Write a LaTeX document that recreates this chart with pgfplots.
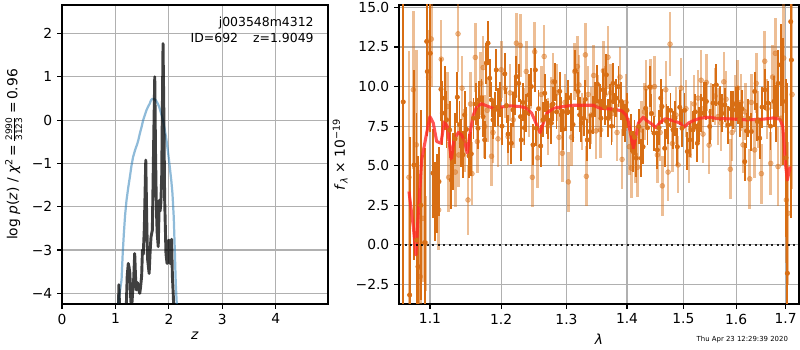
\documentclass[border=0pt]{standalone}
\usepackage{pgfplots}
\pgfplotsset{compat=1.18}
\usepackage{pgfplotstable}
\usepackage{fontspec}
\setmainfont{DejaVu Sans}
\definecolor{darkor}{RGB}{216,110,20}
\definecolor{gridc}{RGB}{176,176,176}
\definecolor{tabblue}{RGB}{31,119,180}
\definecolor{modred}{RGB}{255,40,40}

\pgfplotstableread{
z y
1.045 -4.6
1.05 -4.25
1.114 -3.69
1.135 -3.1
1.157 -2.62
1.18 -2.2
1.207 -1.85
1.24 -1.55
1.27 -1.31
1.30 -1.05
1.33 -0.85
1.37 -0.68
1.41 -0.54
1.43 -0.45
1.456 -0.31
1.49 -0.15
1.518 0.0
1.55 0.12
1.58 0.23
1.61 0.31
1.64 0.38
1.665 0.46
1.686 0.49
1.72 0.49
1.755 0.46
1.785 0.4
1.817 0.31
1.855 0.15
1.89 0.0
1.92 -0.2
1.954 -0.46
1.985 -0.75
2.016 -1.08
2.045 -1.4
2.066 -1.69
2.09 -2.23
2.11 -3.0
2.128 -3.77
2.147 -4.25
2.16 -4.6
}\bluepz

\pgfplotstableread{
z y
1.05 -4.6
1.065 -3.8
1.08 -4.5
1.12 -5.0
1.19 -4.8
1.22 -3.6
1.24 -3.31
1.255 -3.4
1.27 -3.54
1.285 -4.1
1.30 -4.4
1.32 -4.0
1.34 -3.7
1.36 -3.08
1.375 -3.6
1.39 -3.92
1.41 -3.75
1.43 -3.9
1.455 -4.0
1.47 -3.85
1.49 -3.6
1.505 -3.0
1.52 -3.1
1.54 -2.5
1.567 -0.92
1.585 -2.3
1.60 -3.2
1.63 -3.54
1.65 -3.0
1.665 -2.7
1.69 -2.54
1.715 -0.5
1.735 1.0
1.75 -0.8
1.765 -2.0
1.78 -2.6
1.80 -2.92
1.82 -1.85
1.835 -2.1
1.85 -1.9
1.865 -1.3
1.89 1.77
1.905 0.2
1.92 -1.8
1.945 -3.08
1.965 -3.31
1.98 -2.85
2.00 -2.77
2.02 -3.3
2.035 -3.31
2.05 -2.75
2.065 -3.6
2.08 -4.0
2.10 -4.6
}\blackpz

\pgfplotstableread{
x y e
1.0646 9.03 14
1.0730 -3.16 10
1.0787 5.05 6
1.0820 0.3 8
1.0840 -1.37 7
1.0879 2.5 6
1.0929 0.15 6
1.0956 12.85 6
1.0964 10.95 4
1.1004 12.1 5
1.1041 4.53 2.8
1.1072 2.74 2.5
1.1099 3.26 2.5
1.1122 4.0 2.2
1.1149 9.83 2.0
1.1167 8.32 2.0
1.1200 9.27 2.0
1.1225 7.9 1.8
1.1268 7.26 1.8
1.1291 4.1 1.8
1.1314 5.26 1.8
1.1342 6.7 1.6
1.1374 9.33 1.6
1.1405 7.6 1.5
1.1430 6.42 1.5
1.1454 5.7 1.5
1.1477 8.21 1.5
1.1503 7.3 1.4
1.1538 5.62 1.4
1.1570 5.75 1.4
1.1602 8.0 1.3
1.1637 8.9 1.3
1.1666 7.37 1.3
1.1680 9.16 1.2
1.1716 9.3 1.2
1.1738 8.1 1.3
1.1762 6.63 1.2
1.1785 11.48 1.3
1.1810 12.74 1.4
1.1834 10.53 1.2
1.1860 9.16 1.1
1.1882 7.9 1.2
1.1907 8.53 1.1
1.1930 11.05 1.3
1.1955 8.7 1.2
1.1980 9.16 1.1
1.2014 7.5 1.2
1.2054 10.8 1.3
1.2080 8.8 1.1
1.2103 7.0 1.2
1.2151 6.42 1.3
1.2176 8.53 1.1
1.2203 9.4 1.2
1.2226 10.63 1.3
1.2262 10.2 1.2
1.2289 8.1 1.1
1.2301 6.63 1.3
1.2326 9.0 1.2
1.2349 7.4 1.1
1.2376 8.32 1.2
1.2413 9.47 1.3
1.2452 10.0 1.2
1.2478 6.32 1.3
1.2514 11.05 1.4
1.2529 7.37 1.1
1.2563 8.6 1.2
1.2596 6.25 1.3
1.2632 7.9 1.1
1.2658 9.58 1.2
1.2686 8.1 1.1
1.2709 7.89 1.2
1.2761 7.69 1.3
1.2788 8.9 1.1
1.2814 10.3 1.2
1.2843 8.4 1.1
1.2893 9.7 1.2
1.2918 8.21 1.1
1.2945 7.3 1.3
1.2998 8.4 1.2
1.3030 9.3 1.1
1.3068 8.4 1.2
1.3105 7.6 1.1
1.3142 11.0 1.3
1.3185 9.69 1.2
1.3212 8.21 1.1
1.3238 7.69 1.2
1.3282 8.0 1.1
1.3304 9.2 1.2
1.3336 6.63 1.3
1.3375 7.16 1.1
1.3429 8.21 1.2
1.3457 9.16 1.1
1.3500 10.16 1.2
1.3540 9.06 1.1
1.3561 8.0 1.2
1.3595 9.8 1.3
1.3623 8.7 1.1
1.3650 10.74 1.3
1.3678 8.0 1.2
1.3707 9.06 1.1
1.3737 7.5 1.2
1.3762 10.2 1.3
1.3788 8.5 1.1
1.3818 9.27 1.2
1.3855 10.0 1.3
1.3903 9.06 1.2
1.3932 8.0 1.1
1.3961 7.69 1.2
1.4000 8.5 1.1
1.4074 7.06 1.2
1.4103 5.9 1.3
1.4129 6.8 1.1
1.4160 5.48 1.2
1.4202 7.48 1.1
1.4247 5.48 1.2
1.4277 6.2 1.1
1.4324 8.63 1.2
1.4356 7.4 1.1
1.4394 9.98 1.3
1.4426 8.3 1.2
1.4470 7.06 1.1
1.4529 6.0 1.2
1.4559 7.4 1.1
1.4590 9.27 1.2
1.4613 8.74 1.1
1.4662 6.1 1.2
1.4694 7.8 1.1
1.4721 7.58 1.2
1.4766 8.5 1.1
1.4811 7.27 1.2
1.4847 8.0 1.1
1.4889 6.2 1.2
1.4933 8.69 1.1
1.4975 7.37 1.2
1.5021 8.5 1.1
1.5073 5.9 1.2
1.5117 6.63 1.1
1.5178 7.27 1.2
1.5221 8.4 1.1
1.5258 6.42 1.2
1.5290 7.6 1.1
1.5333 8.32 1.2
1.5384 9.2 1.1
1.5428 9.06 1.2
1.5492 7.48 1.1
1.5554 8.95 1.2
1.5617 10.1 1.3
1.5682 8.95 1.1
1.5727 8.3 1.2
1.5779 8.84 1.1
1.5842 7.58 1.2
1.5901 8.6 1.1
1.5940 8.53 1.2
1.5999 8.9 1.1
1.6038 8.84 1.2
1.6071 7.9 1.1
1.6116 8.6 1.2
1.6170 5.26 1.2
1.6205 7.2 1.1
1.6235 8.0 1.2
1.6301 7.16 1.2
1.6369 9.69 1.2
1.6421 7.79 1.2
1.6469 6.74 1.3
1.6516 8.7 1.3
1.6571 9.79 1.3
1.6638 8.95 1.4
1.6688 7.5 1.5
1.6760 9.06 1.6
1.6807 8.32 1.8
1.6842 10.2 2.1
1.6898 11.37 2.6
1.6946 9.06 4.0
1.7008 5.5 5.0
1.7036 -1.79 12
1.7106 14.1 12
1.7119 11.68 10
}\darkpts

\pgfplotstableread{
x y e
1.0721 4.27 8
1.0778 9.8 5
1.0818 6.32 6
1.0853 -1.4 5
1.0870 -2.0 4
1.0906 1.68 4
1.0942 0.11 3
1.0980 10.6 3
1.1018 13.0 3
1.1118 2.21 2.5
1.1153 11.73 2.5
1.1236 8.74 2.2
1.1255 4.27 2.2
1.1346 4.6 2.2
1.1384 13.33 2.4
1.1394 5.68 2.0
1.1440 9.9 2.0
1.1477 6.6 2.0
1.1524 2.84 2.2
1.1560 8.9 2.0
1.1580 4.5 2.0
1.1627 11.84 2.2
1.1656 6.53 2.0
1.1704 10.2 2.0
1.1740 11.2 2.0
1.1762 7.48 2.0
1.1799 8.5 2.0
1.1860 5.6 1.9
1.1882 7.1 1.9
1.1955 6.7 1.8
1.2003 11.06 1.8
1.2060 9.9 1.9
1.2103 6.84 1.8
1.2132 9.6 1.8
1.2180 7.9 1.8
1.2226 12.74 1.9
1.2286 12.6 2.0
1.2341 8.1 1.8
1.2376 10.95 1.9
1.2420 8.7 1.9
1.2468 4.27 1.9
1.2504 12.2 1.9
1.2550 5.5 1.9
1.2606 9.5 1.8
1.2650 11.9 2.0
1.2709 7.5 1.8
1.2760 8.8 1.8
1.2788 10.3 1.8
1.2850 9.6 1.8
1.2882 6.8 1.8
1.2934 5.79 1.8
1.2977 9.0 1.8
1.3030 3.98 1.9
1.3080 6.8 1.8
1.3132 10.95 1.8
1.3174 11.27 1.9
1.3200 10.1 1.9
1.3250 7.8 1.8
1.3304 12.0 2.0
1.3320 4.33 1.9
1.3350 9.5 1.8
1.3396 8.2 1.8
1.3440 10.7 1.9
1.3479 7.2 1.8
1.3510 8.9 1.8
1.3556 7.27 1.8
1.3600 11.0 1.9
1.3628 9.5 1.8
1.3678 11.85 2.0
1.3720 9.6 1.8
1.3745 8.3 1.8
1.3830 7.1 1.8
1.3880 10.6 1.9
1.3915 5.4 1.9
1.3983 9.0 1.8
1.4040 6.2 1.8
1.4074 4.85 1.9
1.4143 5.7 1.8
1.4180 4.9 1.9
1.4247 7.27 1.8
1.4300 8.4 1.8
1.4330 9.9 1.8
1.4412 9.95 1.8
1.4480 10.0 1.9
1.4529 5.68 1.8
1.4580 7.1 1.8
1.4618 3.73 1.9
1.4680 9.8 1.8
1.4721 4.6 1.8
1.4757 12.68 2.0
1.4800 6.4 1.8
1.4866 8.2 1.8
1.4902 5.05 1.8
1.4960 9.9 1.9
1.5048 8.6 1.8
1.5100 5.7 1.8
1.5141 7.3 1.8
1.5200 8.9 1.8
1.5271 9.27 1.8
1.5330 10.4 1.9
1.5365 7.0 1.8
1.5428 10.26 1.8
1.5480 6.3 1.8
1.5516 8.4 1.8
1.5593 9.4 1.8
1.5650 8.1 1.8
1.5707 7.7 1.8
1.5760 10.3 1.9
1.5804 9.2 1.8
1.5887 4.78 1.9
1.5920 7.1 1.8
1.5979 8.9 1.8
1.6030 9.9 1.8
1.6096 9.0 1.8
1.6136 6.32 1.8
1.6180 8.4 1.8
1.6269 4.17 1.9
1.6301 9.0 1.8
1.6369 6.0 1.8
1.6400 10.2 1.9
1.6435 7.9 1.8
1.6502 4.5 1.9
1.6571 11.6 1.9
1.6620 8.6 1.9
1.6692 5.15 2.0
1.6730 10.6 2.0
1.6787 12.1 2.2
1.6842 4.95 2.5
1.6904 8.0 3.0
1.6960 11.8 3.5
1.7014 2.84 4
1.7050 2.0 4.5
1.7133 9.5 6
}\lightpts

\pgfplotstableread{
x y
1.0721 3.37
1.0778 1.16
1.0813 -0.63
1.0844 2.0
1.0889 5.37
1.0956 7.07
1.1000 8.1
1.1045 7.69
1.1091 6.53
1.1149 6.42
1.1195 7.79
1.1236 7.47
1.1259 6.6
1.1291 5.37
1.1328 6.63
1.1388 7.1
1.1435 6.95
1.1482 6.42
1.1514 5.79
1.1552 7.05
1.1599 8.2
1.1647 8.74
1.1719 8.91
1.1814 8.74
1.1911 8.57
1.1984 8.7
1.2132 8.78
1.2281 8.74
1.2382 8.63
1.2458 8.32
1.2524 7.69
1.2586 7.09
1.2637 7.69
1.2690 8.32
1.2793 8.63
1.2950 8.74
1.3110 8.82
1.3434 8.82
1.3545 8.63
1.3767 8.57
1.3909 8.47
1.3983 8.21
1.4022 7.79
1.4069 6.84
1.4108 6.11
1.4155 6.84
1.4195 7.69
1.4282 8.07
1.4342 7.85
1.4430 7.64
1.4506 7.41
1.4577 7.73
1.4667 7.96
1.4817 7.85
1.4938 7.69
1.5012 7.43
1.5091 7.69
1.5184 7.85
1.5309 8.0
1.5497 8.07
1.5625 7.98
1.5881 7.96
1.6209 7.9
1.6542 7.94
1.6746 8.02
1.6884 7.94
1.6940 7.47
1.6967 6.42
1.7002 4.95
1.7036 4.1
1.7091 4.95
}\modelpts

\pgfplotsset{
  every axis/.append style={
    scale only axis,
    anchor=south west,
    axis line style={line width=0.8bp, black},
    tick align=outside,
    tick pos=left,
    major tick length=3.5bp,
    every tick/.style={black, line width=0.8bp},
    grid=major,
    major grid style={gridc, line width=0.8bp},
    tick label style={font=\fontsize{10}{12}\selectfont},
    label style={font=\fontsize{10}{12}\selectfont},
  },
}

\begin{document}
\begin{tikzpicture}
\path[use as bounding box] (0,0) rectangle (576bp,252bp);

\begin{axis}[
  at={(44.64bp,33.12bp)},
  width=191.52bp, height=215.28bp,
  xmin=0, xmax=4.976, ymin=-4.246, ymax=2.66,
  xtick={0,1,2,3,4}, xticklabels={0,1,2,3,4},
  ytick={-4,-3,-2,-1,0,1,2},
  yticklabels={−4,−3,−2,−1,0,1,2},
  xlabel={\textit{z}},
  ylabel={log \textit{p}(\textit{z}) / \textit{χ}\textsuperscript{2}\,=\,$\frac{\mbox{\fontsize{6.5}{7}\selectfont 2990}}{\mbox{\fontsize{6.5}{7}\selectfont 3123}}$\,=\,0.96},
  xlabel style={yshift=1bp},
]
\addplot[tabblue, opacity=0.5, line width=1.6bp] table[x=z,y=y]{\bluepz};
\addplot[black, opacity=0.75, line width=2.1bp, line join=round] table[x=z,y=y]{\blackpz};
\node[anchor=north east, align=right, font=\fontsize{9}{11.5}\selectfont, inner sep=0pt] at (rel axis cs:0.947,0.962) {j003548m4312\\ID=692\hspace{1.2em}z=1.9049};
\end{axis}

\begin{axis}[
  at={(287.28bp,33.12bp)},
  width=288bp, height=215.28bp,
  xmode=log,
  xmin=1.0591, xmax=1.7281, ymin=-3.73, ymax=15.15,
  xtick={1.1,1.2,1.3,1.4,1.5,1.6,1.7},
  xticklabels={1.1,1.2,1.3,1.4,1.5,1.6,1.7},
  minor xtick={},
  ytick={-2.5,0,2.5,5,7.5,10,12.5,15},
  yticklabels={−2.5,0.0,2.5,5.0,7.5,10.0,12.5,15.0},
  xlabel={\textit{λ}},
  ylabel={\textit{f}\textsubscript{\textit{λ}} × 10\textsuperscript{−19}},
  ylabel style={yshift=-1bp},
]
\addplot[darkor, mark=*, mark size=1.6bp, only marks,
  error bars/.cd, y dir=both, y explicit,
  error bar style={line width=1.3bp, darkor}, error mark=none]
  table[x=x, y=y, y error=e]{\darkpts};
\addplot[darkor, opacity=0.45, mark=*, mark size=1.8bp, only marks,
  error bars/.cd, y dir=both, y explicit,
  error bar style={line width=1.8bp, darkor, opacity=0.45}, error mark=none]
  table[x=x, y=y, y error=e]{\lightpts};
\addplot[modred, opacity=0.8, line width=2.2bp, line join=round] table[x=x,y=y]{\modelpts};
\addplot[black, opacity=0.85, line width=1.5bp, dash pattern=on 1.4bp off 2.6bp] coordinates {(1.0591,0) (1.7281,0)};
\end{axis}

\node[anchor=base east, font=\fontsize{5}{6}\selectfont, inner sep=0pt] at (567.5bp,5.8bp) {Thu Apr 23 12:29:39 2020};
\end{tikzpicture}
\end{document}
